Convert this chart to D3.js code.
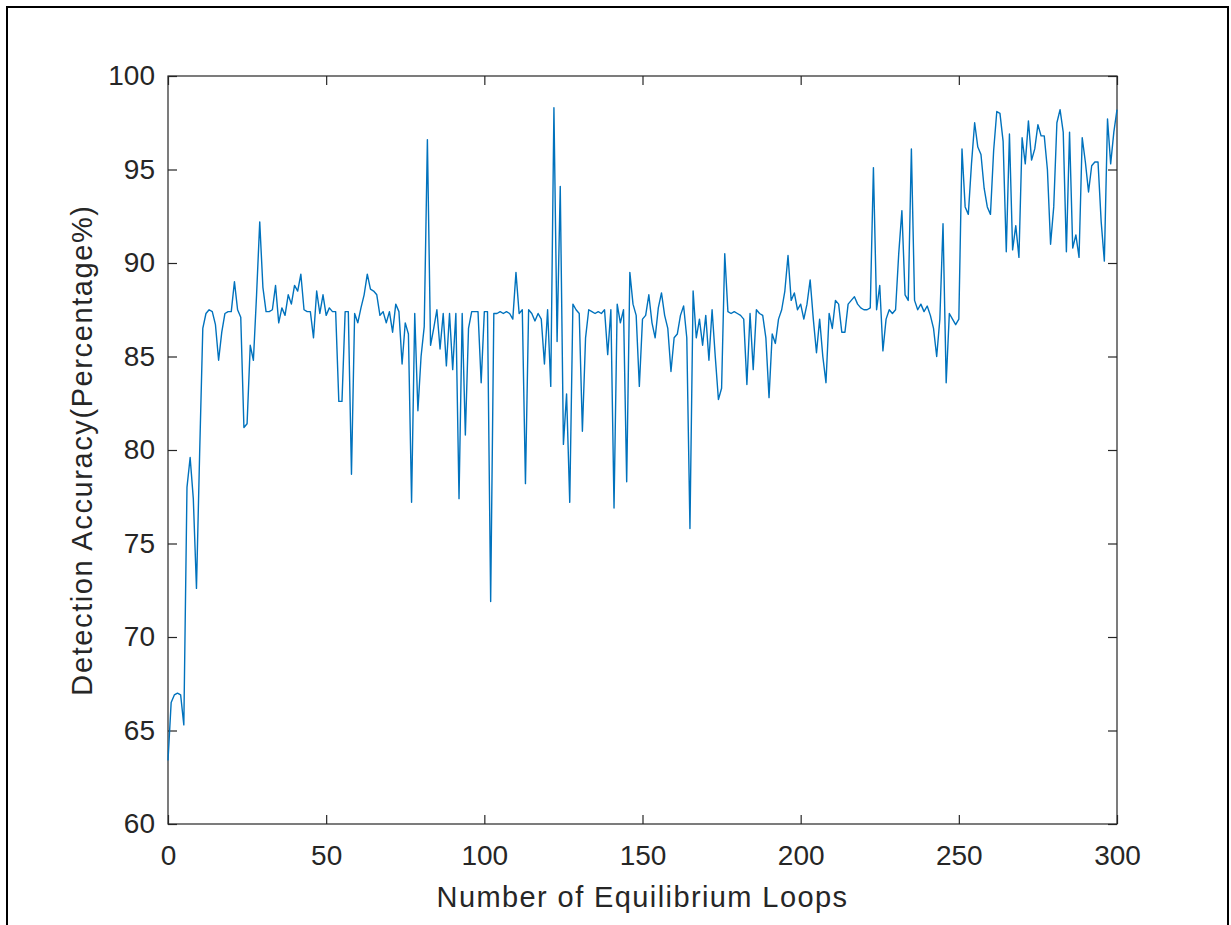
<!DOCTYPE html>
<html>
<head>
<meta charset="utf-8">
<script src="https://cdn.jsdelivr.net/npm/d3@7"></script>
<style>
  body { margin: 0; background: #fff; }
  text { font-family: "Liberation Sans", Arial, sans-serif; fill: #262626; }
</style>
</head>
<body>
<div id="chart"></div>
<script>

// Detection accuracy per equilibrium loop
var accuracy = [
  63.4, 66.5, 66.9, 67.0, 66.9, 65.3, 78.0, 79.6, 77.4, 72.6,
  79.8, 86.5, 87.3, 87.5, 87.4, 86.7, 84.8, 86.3, 87.3, 87.4,
  87.4, 89.0, 87.5, 87.1, 81.2, 81.4, 85.6, 84.8, 88.3, 92.2,
  88.7, 87.4, 87.4, 87.5, 88.8, 86.8, 87.6, 87.2, 88.3, 87.8,
  88.8, 88.5, 89.4, 87.5, 87.4, 87.4, 86.0, 88.5, 87.3, 88.3,
  87.2, 87.6, 87.4, 87.4, 82.6, 82.6, 87.4, 87.4, 78.7, 87.3,
  86.8, 87.6, 88.3, 89.4, 88.6, 88.5, 88.3, 87.2, 87.4, 86.8,
  87.4, 86.3, 87.8, 87.4, 84.6, 86.8, 86.2, 77.2, 87.3, 82.1,
  85.0, 86.6, 96.6, 85.6, 86.5, 87.5, 85.4, 87.3, 84.5, 87.3,
  84.3, 87.3, 77.4, 87.3, 80.8, 86.5, 87.4, 87.4, 87.4, 83.6,
  87.4, 87.4, 71.9, 87.3, 87.3, 87.4, 87.3, 87.4, 87.3, 87.0,
  89.5, 87.3, 87.5, 78.2, 87.5, 87.3, 86.9, 87.3, 87.0, 84.6,
  87.5, 83.4, 98.3, 85.8, 94.1, 80.3, 83.0, 77.2, 87.8, 87.5,
  87.3, 81.0, 86.0, 87.5, 87.4, 87.3, 87.4, 87.3, 87.5, 85.1,
  87.5, 76.9, 87.8, 86.8, 87.5, 78.3, 89.5, 87.8, 87.2, 83.4,
  87.0, 87.2, 88.3, 86.8, 86.0, 87.6, 88.4, 87.2, 86.5, 84.2,
  86.0, 86.2, 87.2, 87.7, 86.0, 75.8, 88.5, 86.0, 87.0, 85.6,
  87.2, 84.8, 87.5, 85.0, 82.7, 83.3, 90.5, 87.4, 87.3, 87.4,
  87.3, 87.2, 87.0, 83.5, 87.3, 84.3, 87.5, 87.3, 87.2, 86.0,
  82.8, 86.2, 85.7, 87.0, 87.5, 88.5, 90.4, 88.0, 88.4, 87.5,
  87.8, 87.0, 87.8, 89.1, 87.0, 85.2, 87.0, 85.0, 83.6, 87.3,
  86.5, 88.0, 87.8, 86.3, 86.3, 87.8, 88.0, 88.2, 87.8, 87.6,
  87.5, 87.5, 87.6, 95.1, 87.5, 88.8, 85.3, 87.0, 87.5, 87.3,
  87.5, 90.5, 92.8, 88.3, 88.0, 96.1, 88.0, 87.5, 87.8, 87.4,
  87.7, 87.2, 86.5, 85.0, 87.0, 92.1, 83.6, 87.3, 87.0, 86.7,
  87.0, 96.1, 93.0, 92.6, 95.3, 97.5, 96.2, 95.8, 94.0, 93.0,
  92.6, 96.0, 98.1, 98.0, 96.5, 90.6, 96.9, 90.7, 92.0, 90.3,
  96.7, 95.3, 97.6, 95.5, 96.1, 97.4, 96.8, 96.8, 95.0, 91.0,
  93.0, 97.5, 98.2, 97.0, 90.6, 97.0, 90.8, 91.5, 90.3, 96.7,
  95.4, 93.8, 95.2, 95.4, 95.4, 92.2, 90.1, 97.7, 95.3, 97.0,
  98.2
];

// Tick values
var xTicks = [0, 50, 100, 150, 200, 250, 300];
var yTicks = [60, 65, 70, 75, 80, 85, 90, 95, 100];

var xLabel = "Number of Equilibrium Loops",
    yLabel = "Detection Accuracy(Percentage%)";

// Set width, height and margins
var width = 1231,
    height = 925;
var margin = {top: 76, right: 114, bottom: 101, left: 168},
    plotW = width - margin.left - margin.right,
    plotH = height - margin.top - margin.bottom;

var svg = d3.select("#chart")
            .append("svg")
              .attr("width", width)
              .attr("height", height);

// Outer frame of the figure
svg.append("path")
    .attr("d", "M7,925 L7,7 L1228,7 L1228,925")
    .attr("fill", "none")
    .attr("stroke", "#000")
    .attr("stroke-width", 2);

var g = svg.append("g")
            .attr("transform", "translate(" + margin.left + "," + margin.top + ")");

// Scales
var x = d3.scaleLinear()
          .domain([0, 300])
          .range([0, plotW]);

var y = d3.scaleLinear()
          .domain([60, 100])
          .range([plotH, 0]);

var tickLen = 9;

// Bottom axis (ticks pointing inward)
g.append("g")
  .attr("transform", "translate(0," + plotH + ")")
  .call(d3.axisBottom(x).tickValues(xTicks).tickSize(-tickLen).tickPadding(21))
  .call(function(a) { a.select(".domain").remove(); });

// Top axis ticks
g.append("g")
  .call(d3.axisTop(x).tickValues(xTicks).tickSize(-tickLen).tickFormat(""))
  .call(function(a) { a.select(".domain").remove(); });

// Left axis
g.append("g")
  .call(d3.axisLeft(y).tickValues(yTicks).tickSize(-tickLen).tickPadding(13))
  .call(function(a) { a.select(".domain").remove(); });

// Right axis ticks
g.append("g")
  .attr("transform", "translate(" + plotW + ",0)")
  .call(d3.axisRight(y).tickValues(yTicks).tickSize(-tickLen).tickFormat(""))
  .call(function(a) { a.select(".domain").remove(); });

g.selectAll(".tick line")
  .attr("stroke", "#262626")
  .attr("stroke-width", 1.2);

g.selectAll(".tick text")
  .style("font-size", "28px")
  .style("font-family", "'Liberation Sans', Arial, sans-serif")
  .attr("fill", "#262626");

// Axes box
g.append("rect")
  .attr("width", plotW)
  .attr("height", plotH)
  .attr("fill", "none")
  .attr("stroke", "#262626")
  .attr("stroke-width", 1.2);

// The accuracy line
var line = d3.line()
             .x(function(d, i) { return x(i); })
             .y(function(d) { return y(d); });

g.append("path")
  .datum(accuracy)
  .attr("d", line)
  .attr("fill", "none")
  .attr("stroke", "#0072BD")
  .attr("stroke-width", 1.4)
  .attr("stroke-linejoin", "round");

// Axis labels
svg.append("text")
    .attr("x", margin.left + plotW / 2)
    .attr("y", 907)
    .attr("text-anchor", "middle")
    .style("font-size", "29px")
    .style("letter-spacing", "1.4px")
    .text(xLabel);

svg.append("text")
    .attr("transform", "translate(92," + (margin.top + plotH / 2) + ") rotate(-90)")
    .attr("text-anchor", "middle")
    .style("font-size", "29px")
    .style("letter-spacing", "1.6px")
    .text(yLabel);

</script>
</body>
</html>
